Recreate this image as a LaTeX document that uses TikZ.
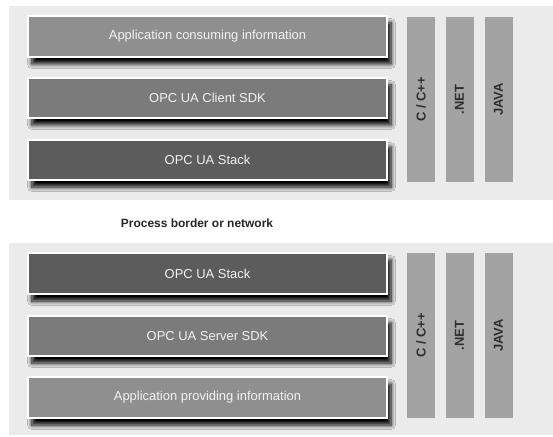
\documentclass[tikz,border=0pt]{standalone}
\usepackage{fontspec}
\setmainfont{Liberation Sans}
\usetikzlibrary{shadows.blur}
\definecolor{panelbg}{HTML}{EBEBEB}
\definecolor{appc}{HTML}{8F8F8F}
\definecolor{sdkc}{HTML}{7B7B7B}
\definecolor{stackc}{HTML}{5C5C5C}
\definecolor{vbarc}{HTML}{A3A3A3}
\definecolor{vtext}{HTML}{2E2E2E}
\definecolor{btext}{HTML}{F2F2F2}
\tikzset{
  panel/.style={rectangle, fill=panelbg, draw=none, inner sep=0pt},
  layer/.style={rectangle, draw=white, line width=1.2bp, inner sep=0pt,
    minimum width=359bp, text=btext,
    font=\fontsize{13}{14}\selectfont,
    blur shadow={shadow xshift=4bp, shadow yshift=-7bp, shadow blur radius=4.5bp, shadow opacity=100, shadow blur steps=8}},
  langbar/.style={rectangle, fill=vbarc, draw=none, inner sep=0pt,
    minimum height=28bp, rotate=90, text=vtext,
    font=\bfseries\fontsize{13}{14}\selectfont},
}
\begin{document}
\begin{tikzpicture}[x=1bp,y=-1bp]
\fill[white] (0,0) rectangle (553,437);
\useasboundingbox (0,0) rectangle (553,437);
% panels
\node[panel, minimum width=544bp, minimum height=194bp] (toppanel) at (281,103) {};
\node[panel, minimum width=544bp, minimum height=192bp] (botpanel) at (281,339) {};
% top stack
\node[layer, fill=appc, minimum height=41bp] (capp) at (207.5,36.5) {Application consuming information};
\node[layer, fill=sdkc, minimum height=40bp] (csdk) at (207.5,98) {OPC UA Client SDK};
\node[layer, fill=stackc, minimum height=40bp] (cstack) at (207.5,160) {OPC UA Stack};
\node[langbar, minimum width=165bp] (ccpp) at (421,99.5) {C / C++};
\node[langbar, minimum width=165bp] (cnet) at (459.5,99.5) {.NET};
\node[langbar, minimum width=165bp] (cjava) at (498.5,99.5) {JAVA};
% border label
\node[font=\bfseries\fontsize{12}{14}\selectfont, text=black!85] (border) at (197,223) {Process border or network};
% bottom stack
\node[layer, fill=stackc, minimum height=41bp] (sstack) at (207.5,273.5) {OPC UA Stack};
\node[layer, fill=sdkc, minimum height=40bp] (ssdk) at (207.5,336) {OPC UA Server SDK};
\node[layer, fill=appc, minimum height=41bp] (sapp) at (207.5,397.5) {Application providing information};
\node[langbar, minimum width=165bp] (sccpp) at (421,335.5) {C / C++};
\node[langbar, minimum width=165bp] (snet) at (459.5,335.5) {.NET};
\node[langbar, minimum width=165bp] (sjava) at (498.5,335.5) {JAVA};
\end{tikzpicture}
\end{document}
